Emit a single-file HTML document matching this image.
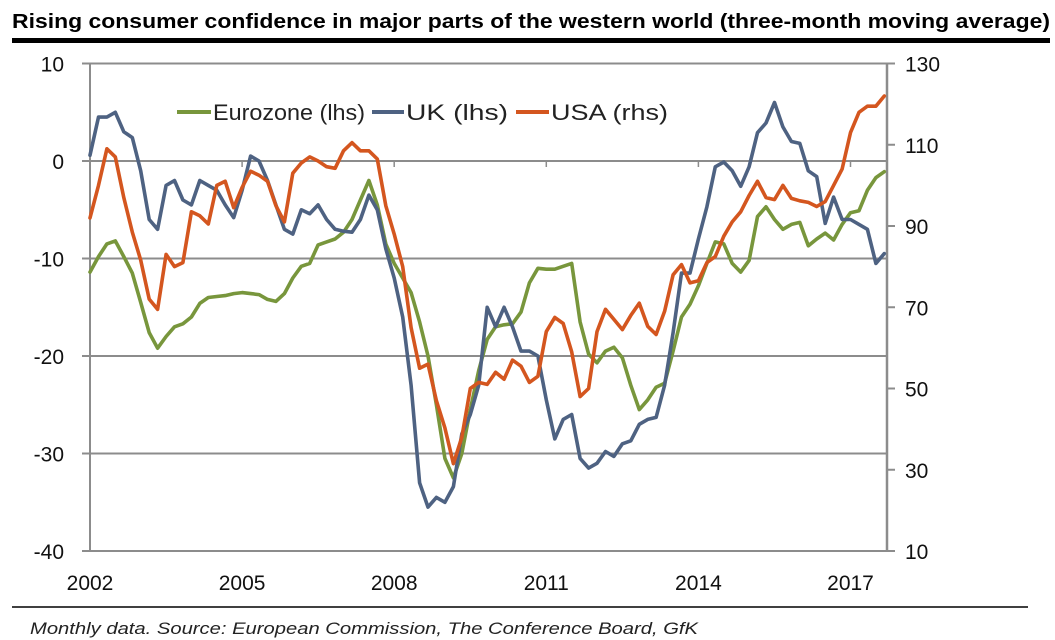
<!DOCTYPE html>
<html><head><meta charset="utf-8"><style>
html,body{margin:0;padding:0;background:#fff;}
svg{display:block;font-family:"Liberation Sans",sans-serif;}
</style></head><body>
<svg id="chart" width="1055" height="640" viewBox="0 0 1055 640" xmlns="http://www.w3.org/2000/svg">
<text x="12" y="28" font-size="20" font-weight="bold" textLength="1038" lengthAdjust="spacingAndGlyphs">Rising consumer confidence in major parts of the western world (three-month moving average)</text>
<rect x="12" y="38" width="1038" height="5" fill="#000"/>
<g id="grid"></g>
<g id="axes"></g>
<g id="series"></g>
<g font-size="22" fill="#222">
<line x1="177" y1="112" x2="211" y2="112" stroke="#78963c" stroke-width="4"/>
<text x="213" y="120" textLength="152" lengthAdjust="spacingAndGlyphs">Eurozone (lhs)</text>
<line x1="372" y1="112" x2="404" y2="112" stroke="#4e6282" stroke-width="4"/>
<text x="406" y="120" textLength="102" lengthAdjust="spacingAndGlyphs">UK (lhs)</text>
<line x1="516" y1="112" x2="549" y2="112" stroke="#d4561f" stroke-width="4"/>
<text x="551" y="120" textLength="117" lengthAdjust="spacingAndGlyphs">USA (rhs)</text>
</g>
<line x1="12" y1="607" x2="1028" y2="607" stroke="#000" stroke-width="1.5"/>
<text x="30" y="634" font-size="17" font-style="italic" fill="#222" textLength="668" lengthAdjust="spacingAndGlyphs">Monthly data. Source: European Commission, The Conference Board, GfK</text>
</svg>
<script>
// bimonthly observations starting Jan 2002
const startYear = 2002;
const stepMonths = 2;
const leftTicks = [10, 0, -10, -20, -30, -40];
const rightTicks = [130, 110, 90, 70, 50, 30, 10];
const yearLabels = [2002, 2005, 2008, 2011, 2014, 2017];
const eurozone = [-11.4,-9.8,-8.5,-8.2,-9.8,-11.5, -14.5,-17.6,-19.2,-18,-17,-16.7, -16,-14.6,-14,-13.9,-13.8,-13.6, -13.5,-13.6,-13.7,-14.2,-14.4,-13.6, -12,-10.8,-10.5,-8.6,-8.3,-8, -7.3,-6,-4,-2,-4.5,-8.5, -10.5,-12,-13.5,-16.5,-20,-25, -30.5,-32.5,-30,-25.5,-21.5,-18.3, -17,-16.8,-16.7,-15.5,-12.5,-11, -11.1,-11.1,-10.8,-10.5,-16.5,-19.8, -20.7,-19.5,-19.1,-20.2,-23,-25.5, -24.5,-23.2,-22.8,-19.5,-16,-14.7, -12.8,-10.5,-8.3,-8.5,-10.5,-11.4, -10.2,-5.7,-4.7,-6,-7,-6.5, -6.3,-8.7,-8,-7.4,-8.1,-6.5, -5.3,-5.1,-3,-1.7,-1.1];
const uk = [0.6,4.5,4.5,5,3,2.4, -1,-6,-7,-2.5,-2,-4, -4.5,-2,-2.5,-3,-4.5,-5.8, -3,0.5,0,-2,-4.5,-7, -7.5,-5,-5.4,-4.5,-6,-7, -7.2,-7.3,-6,-3.5,-5,-9, -12,-16,-23,-33,-35.5,-34.5, -35,-33.4,-28,-26,-23,-15, -17,-15,-17,-19.5,-19.5,-20, -24.5,-28.5,-26.5,-26,-30.5,-31.5, -31,-29.8,-30.3,-29,-28.7,-27, -26.5,-26.3,-23,-17.6,-11.5,-11.5, -8,-4.7,-0.6,-0.1,-1,-2.6, -0.6,2.9,3.9,6,3.5,2, 1.8,-1,-1.6,-6.4,-3.7,-6, -6,-6.5,-7,-10.5,-9.5];
const usa = [92,100,109,107,97,88.5, 81.6,72,69.5,83,80,81, 93.5,92.5,90.5,100,101,94.5, 99.5,103.5,102.5,101,95,91, 103,105.5,107,106,104.6,104.2, 108.5,110.5,108.5,108.5,106.5,95, 88,80,65,55,56,47, 40.3,31.5,38,50,51.5,51, 54,52.3,57,55.5,51.5,53, 64,67.5,66,59,48,50, 64,69.5,67,64.5,68,71, 65.3,63.3,69,78,80.5,76, 76.5,81,82.5,87.5,91,93.5, 97.5,101,97,96.5,100,96.8, 96.2,95.8,94.8,96,100,104, 113,118,119.5,119.5,122];

const NS = 'http://www.w3.org/2000/svg';
const X0 = 90, X1 = 887, PX_PER_YEAR = 50.7;
const YT = 63.5, YB = 551;
function xOf(i){ return X0 + PX_PER_YEAR * (i * stepMonths / 12); }
function xYear(y){ return X0 + PX_PER_YEAR * (y - startYear); }
function yL(v){ return YT + (10 - v) / 50 * (YB - YT); }
function yR(v){ return YT + (130 - v) / 120 * (YB - YT); }
function mk(tag, attrs, parent){ const e = document.createElementNS(NS, tag); for (const k in attrs) e.setAttribute(k, attrs[k]); parent.appendChild(e); return e; }

const grid = document.getElementById('grid');
const axes = document.getElementById('axes');
leftTicks.forEach(v => {
  const y = yL(v);
  const g = mk('line', {x1: X0 - 8, y1: y, x2: X1, y2: y, stroke: '#8c8c8c', 'stroke-width': 2}, grid);
  
  
  const t = mk('text', {x: 64, y: y + 8, 'text-anchor': 'end', 'font-size': 21, fill: '#111'}, axes);
  t.textContent = v;
  
  
});
rightTicks.forEach(v => {
  const y = yR(v);
  const tk = mk('line', {x1: X1, y1: y, x2: X1 + 8, y2: y, stroke: '#8c8c8c', 'stroke-width': 2}, grid);
  
  
  const t = mk('text', {x: 905, y: y + 8, 'font-size': 21, fill: '#111'}, axes);
  t.textContent = v;
  
  
});
yearLabels.forEach(yr => {
  const x = xYear(yr);
  const tk = mk('line', {x1: x, y1: yL(0), x2: x, y2: yL(0) + 6, stroke: '#8c8c8c', 'stroke-width': 1.5}, grid);
  
  
  const t = mk('text', {x: x, y: 590, 'text-anchor': 'middle', 'font-size': 21, fill: '#111'}, axes);
  t.textContent = yr;
  
  
});
const la = mk('line', {x1: X0, y1: YT, x2: X0, y2: YB, stroke: '#8c8c8c', 'stroke-width': 2}, axes);


const ra = mk('line', {x1: X1, y1: YT, x2: X1, y2: YB, stroke: '#8c8c8c', 'stroke-width': 2.5}, axes);



const series = document.getElementById('series');
function drawLine(arr, yf, color, name){
  const d = arr.map((v, i) => (i ? 'L' : 'M') + xOf(i).toFixed(1) + ',' + yf(v).toFixed(1)).join(' ');
  const p = mk('path', {d: d, fill: 'none', stroke: color, 'stroke-width': 3.6, 'stroke-linejoin': 'round', 'stroke-linecap': 'round'}, series);
  
  
}
drawLine(eurozone, yL, '#78963c', 'eurozone-line');
drawLine(uk, yL, '#4e6282', 'uk-line');
drawLine(usa, yR, '#d4561f', 'usa-line');
</script>
</body></html>
